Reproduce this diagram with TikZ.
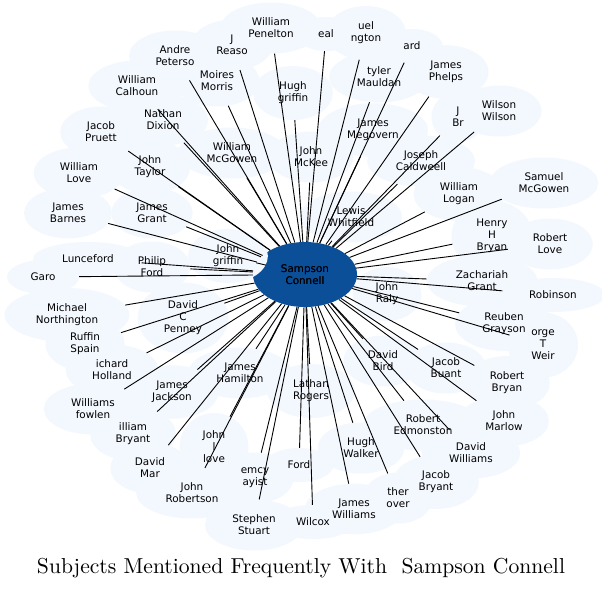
\documentclass[tikz,border=0pt]{standalone}
\usepackage{fontspec}
\usepackage{graphicx}
\usetikzlibrary{shapes.geometric}
\newfontfamily\nodefont{DejaVu Sans}
\definecolor{cloud}{RGB}{243,247,254}
\definecolor{hubblue}{RGB}{11,79,153}
\newcommand\subjectlist{%
pen/271/28/{William\\Penelton},
neal/326/34/{eal},
ingt/366/33/{uel\\ngton},
ard/412/46/{ard},
andre/175/56/{Andre\\Peterso},
reaso/232/45/{J\\Reaso},
calhoun/137/86/{William\\Calhoun},
moires/217/81/{Moires\\Morris},
hughg/293/93/{Hugh\\griffin},
mauldan/379/77/{tyler\\Mauldan},
phelps/446/72/{James\\Phelps},
pruett/101/132/{Jacob\\Pruett},
dixion/163/120/{Nathan\\Dixion},
mckee/311/157/{John\\McKee},
megovern/373/130/{James\\Megovern},
jbr/458/117/{J\\Br},
wilson/499/111/{Wilson\\Wilson},
mcgowenw/232/153/{William\\McGowen},
caldweell/421/161/{Joseph\\Caldweell},
wlove/79/173/{William\\Love},
taylor/150/167/{John\\Taylor},
samuel/544/183/{Samuel\\McGowen},
logan/459/194/{William\\Logan},
barnes/68/213/{James\\Barnes},
jgrant/152/213/{James\\Grant},
whitfield/351/217/{Lewis\\Whitfield},
hbryan/492/236/{Henry\\H\\Bryan},
rlove/550/244/{Robert\\Love},
lunceford/88/259/{Lunceford},
pford/152/267/{Philip\\Ford},
garo/43/277/{Garo},
zgrant/482/281/{Zachariah\\Grant},
raly/387/294/{John\\Raly},
robinson/553/295/{Robinson},
northington/67/315/{Michael\\Northington},
penney/183/318/{David\\C\\Penney},
reuben/504/324/{Reuben\\Grayson},
spain/85/344/{Ruffin\\Spain},
weir/543/345/{orge\\T\\Weir},
bird/383/361/{David\\Bird},
buant/446/368/{Jacob\\Buant},
holland/112/370/{ichard\\Holland},
hamilton/240/373/{James\\Hamilton},
rbryan/507/383/{Robert\\Bryan},
rogers/311/391/{Lathan\\Rogers},
jackson/172/392/{James\\Jackson},
fowlen/93/409/{Williams\\fowlen},
marlow/504/421/{John\\Marlow},
edmonston/423/425/{Robert\\Edmonston},
wbryant/133/434/{illiam\\Bryant},
jllove/214/447/{John\\l\\love},
hwalker/361/448/{Hugh\\Walker},
dwilliams/471/453/{David\\Williams},
fordx/299/465/{Ford},
marsh/150/468/{David\\Mar},
semcy/255/478/{emcy\\ayist},
jbryant/436/482/{Jacob\\Bryant},
glover/398/498/{ther\\over},
robertson/192/493/{John\\Robertson},
jwilliams/354/509/{James\\Williams},
wilcox/313/522/{Wilcox},
stuart/254/525/{Stephen\\Stuart}}
\begin{document}
\begin{tikzpicture}[x=1pt,y=-1pt,
  labelfont/.style={font=\nodefont\fontsize{10.4}{12}\selectfont},
  cloudnode/.style={ellipse, fill=cloud, inner xsep=13pt, inner ysep=8pt,
    align=center, labelfont, text=cloud},
  labeltext/.style={align=center, labelfont, text=black, inner sep=0pt},
  hubnode/.style={ellipse, fill=hubblue, minimum width=104pt, minimum height=65pt,
    align=center, labelfont, text=black},
  edgeline/.style={draw=black, line width=0.9pt}]
\useasboundingbox (0,0) rectangle (602,590);
\fill[white] (0,0) rectangle (602,590);
% clouds
\foreach \n/\x/\y/\t in \subjectlist {\node[cloudnode] (\n) at (\x,\y) {\t};}
% hub
\node[hubnode] (hub) at (305,274.5) {Sampson\\Connell};
\node[cloudnode] (jgriffin) at (228,256) {John\\griffin};
% connectors
\foreach \n/\x/\y/\t in \subjectlist {\draw[edgeline] (hub) -- (\n);}
\draw[edgeline] (hub) -- (jgriffin);
% labels
\foreach \n/\x/\y/\t in \subjectlist {\node[labeltext] (t-\n) at (\x,\y) {\t};}
\node[labeltext] (t-jgriffin) at (228,256) {John\\griffin};
\node[labeltext] (t-hub) at (305,274.5) {Sampson\\Connell};
% title
\node[inner sep=0pt] (title) at (301,568) {\resizebox{528pt}{!}{Subjects Mentioned Frequently With\ \ Sampson Connell}};
\end{tikzpicture}
\end{document}
